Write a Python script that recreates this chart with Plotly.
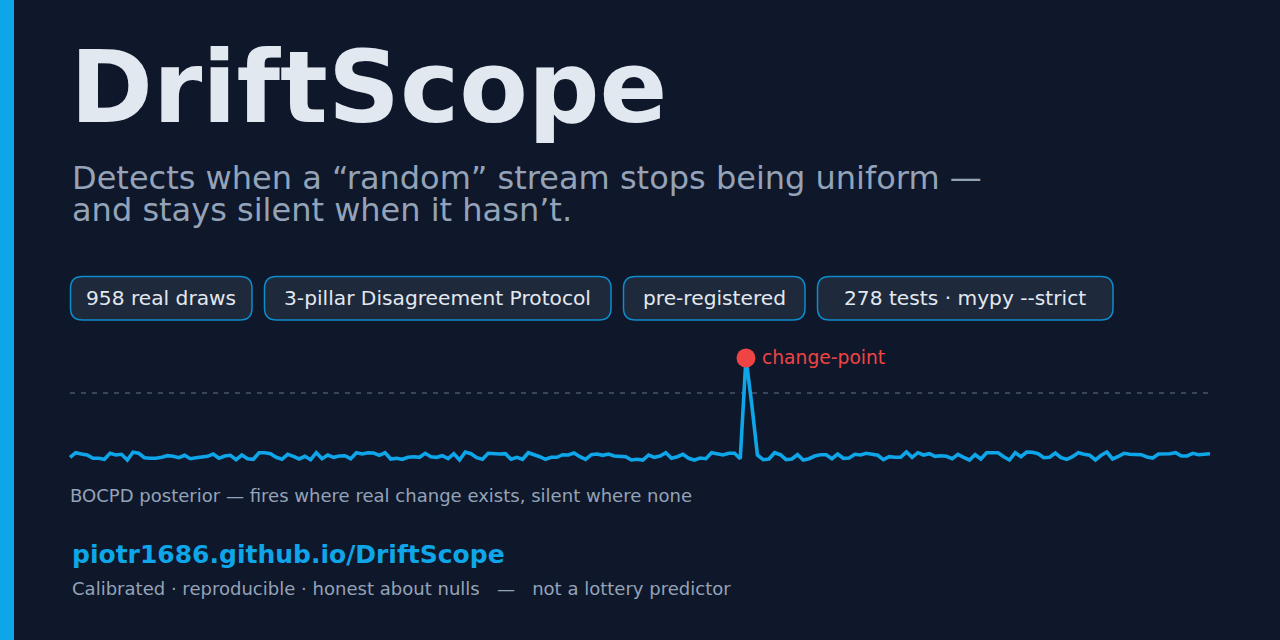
import plotly.graph_objects as go

W, H = 1280, 640
posterior = [
 .027,.073,.060,.050,.017,.017,.007,.067,.050,.057,
 .000,.077,.067,.023,.017,.017,.027,.043,.037,.023,
 .047,.013,.023,.030,.037,.060,.017,.040,.047,.003,
 .050,.013,.007,.073,.073,.063,.027,.007,.057,.037,
 .010,.037,.003,.073,.013,.050,.027,.040,.043,.013,
 .073,.060,.073,.070,.047,.073,.010,.017,.007,.027,
 .033,.027,.067,.033,.027,.043,.013,.063,.000,
 .080,.063,.023,.007,.067,.060,.060,.063,.007,.027,
 .007,.073,.057,.033,.007,.027,.027,.053,.050,.070,
 .033,.007,.053,.060,.047,.060,.040,.040,.033,.000,
 .007,.000,.050,.027,.040,.073,.017,.033,.057,.017,
 .000,.020,.013,.073,.063,.050,.067,.067,.013,1.02,
 .560,.050,.003,.010,.073,.053,.003,.010,.053,.000,
 .013,.040,.053,.053,.013,
 .060,.017,.020,.057,.050,.067,.053,.047,.003,.033,
 .027,.027,.080,.027,.073,.050,.063,.037,.043,.037,
 .013,.057,.027,.000,.053,.010,.073,.073,.073,.033,
 .000,.073,.033,.080,.077,.063,.023,.027,.070,.023,
 .007,.033,.073,.057,.047,.000,.047,.080,.010,.037,
 .067,.057,.053,.053,.030,.020,.060,.060,.063,.073,
 .040,.040,.067,.053,.057,.063,
]
threshold = 0.67
peak_index = 118
pills = ["958 real draws", "3-pillar Disagreement Protocol", "pre-registered", "278 tests · mypy --strict"]
title = "DriftScope"
subtitle = ["Detects when a “random” stream stops being uniform —", "and stays silent when it hasn’t."]
caption = "BOCPD posterior — fires where real change exists, silent where none"
url = "piotr1686.github.io/DriftScope"
footer = "Calibrated · reproducible · honest about nulls \u00a0\u00a0—\u00a0\u00a0 not a lottery predictor"

BG = "#0f172a"
ACCENT = "#0ea5e9"
FONT = "DejaVu Sans"

def px(x): return x / W
def py(y): return 1 - y / H

def round_rect(x0, y0, x1, y1, r):
    a, b, c, d = px(x0), px(x1), py(y0), py(y1)
    rx, ry = r / W, r / H
    return (f"M{a+rx},{c} L{b-rx},{c} Q{b},{c} {b},{c-ry} L{b},{d+ry} Q{b},{d} {b-rx},{d} "
            f"L{a+rx},{d} Q{a},{d} {a},{d+ry} L{a},{c-ry} Q{a},{c} {a+rx},{c} Z")

step = 1140 / 199
fig = go.Figure()
fig.add_trace(go.Scatter(x=[0, 199], y=[threshold, threshold], mode="lines",
                         line=dict(color="#64748b", width=1.2, dash="5px,6px"), hoverinfo="skip"))
fig.add_trace(go.Scatter(x=list(range(len(posterior))), y=posterior, mode="lines",
                         line=dict(color=ACCENT, width=3.6), hoverinfo="skip"))
fig.add_trace(go.Scatter(x=[peak_index], y=[posterior[peak_index]], mode="markers",
                         marker=dict(color="#ef4444", size=19, line=dict(width=0)), hoverinfo="skip"))

shapes = [dict(type="rect", xref="paper", yref="paper", x0=0, x1=px(14), y0=0, y1=1,
               fillcolor=ACCENT, line=dict(width=0), layer="below")]
pill_boxes = [(70.5, 252), (264.5, 611), (623.5, 805), (817.5, 1113)]
for (x0, x1), t in zip(pill_boxes, pills):
    shapes.append(dict(type="path", xref="paper", yref="paper", path=round_rect(x0, 276.5, x1, 320, 12),
                       fillcolor="#1e293b", line=dict(color="#0e8ccb", width=1.5), layer="below"))

def text(x, y, s, size, color, bold=False, anchor="left"):
    return dict(xref="paper", yref="paper", x=px(x), y=py(y), text=f"<b>{s}</b>" if bold else s,
                showarrow=False, xanchor=anchor, yanchor="middle", borderpad=0,
                font=dict(family=FONT, size=size, color=color))

ann = [
    text(69, 87, title, 100, "#e2e8f0", bold=True),
    text(71, 178, subtitle[0], 32, "#94a3b8"),
    text(71, 210, subtitle[1], 32, "#94a3b8"),
    text(761, 357, "change-point", 18.7, "#ef4444"),
    text(69, 495, caption, 18.05, "#94a3b8"),
    text(71, 554, url, 25, ACCENT, bold=True),
    text(71, 588, footer, 18.05, "#94a3b8"),
]
for (x0, x1), t in zip(pill_boxes, pills):
    ann.append(text((x0 + x1) / 2, 298, t, 20.2, "#e2e8f0", anchor="center"))

fig.update_layout(
    width=W, height=H, margin=dict(l=0, r=0, t=0, b=0), autosize=False,
    paper_bgcolor=BG, plot_bgcolor=BG, showlegend=False, shapes=shapes, annotations=ann,
    xaxis=dict(range=[-70 / step, (W - 70) / step], visible=False, fixedrange=True),
    yaxis=dict(range=[-1.8, 4.6], visible=False, fixedrange=True),
)
fig.write_html("out.html", config=dict(displayModeBar=False),
               post_script="document.body.style.margin='0';document.body.style.background='%s';" % BG)
